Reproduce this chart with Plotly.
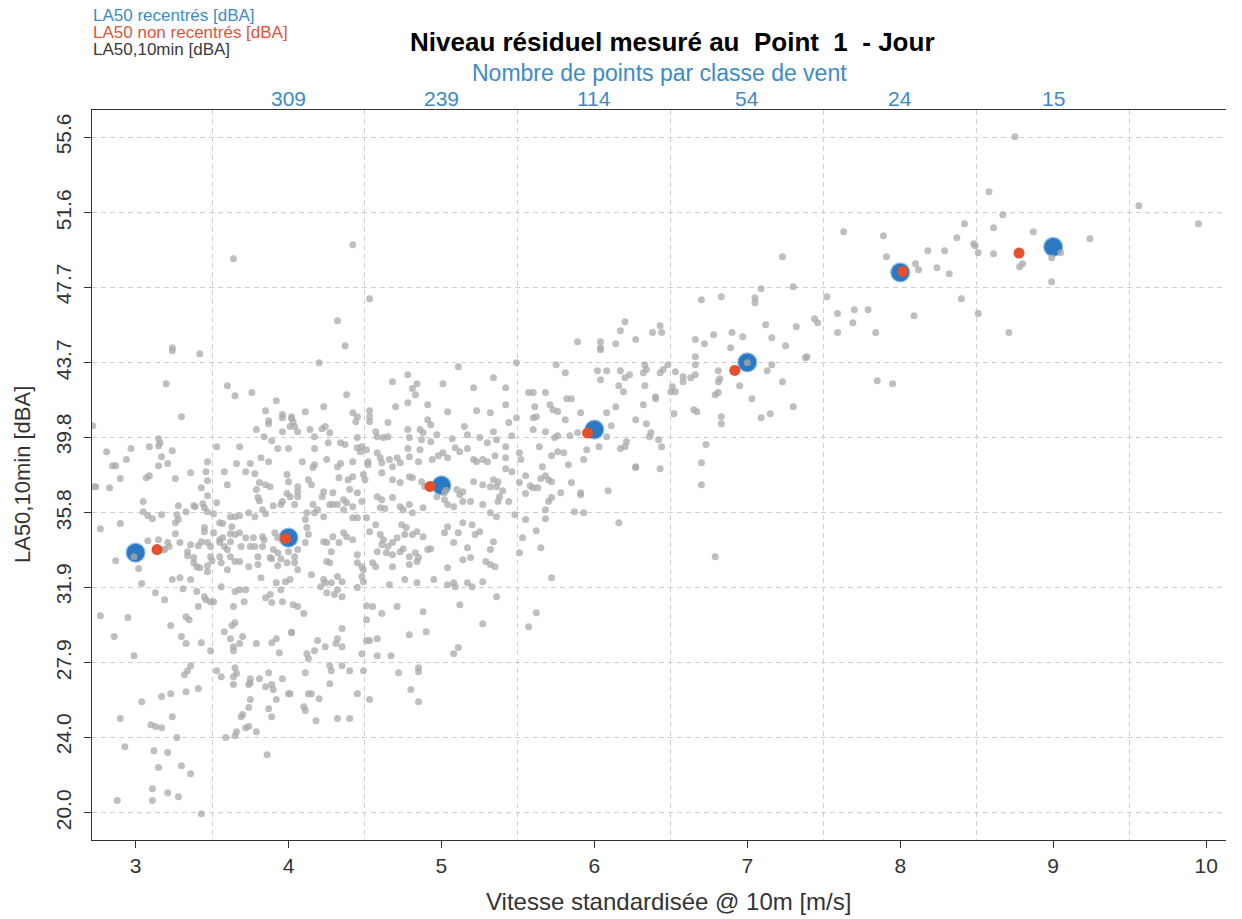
import plotly.graph_objects as go

# ---- per-class results (recentred / not recentred LA50) ----
classes_vent = [3, 4, 5, 6, 7, 8, 9]
la50_recentre = [33.71, 34.50, 37.25, 40.19, 43.73, 48.47, 49.81]
vent_non_recentre = [3.14, 3.98, 4.925, 5.955, 6.918, 8.017, 8.777]
la50_non_recentre = [33.87, 34.45, 37.20, 40.01, 43.31, 48.52, 49.49]

# number of 10-min samples per wind class (top axis)
classes_effectif = [4, 5, 6, 7, 8, 9]
effectifs = [309, 239, 114, 54, 24, 15]

# axis ticks
x_ticks = [3, 4, 5, 6, 7, 8, 9, 10]
y_tick_labels = ["20.0", "24.0", "27.9", "31.9", "35.8", "39.8", "43.7", "47.7", "51.6", "55.6"]

# ---- 10-min samples (wind speed m/s, LA50 dBA) ----
points_haut_gauche = [
    (3.64, 49.19), (3.24, 44.50), (4.42, 49.93), (4.53, 47.08), (4.32, 45.93), (4.37, 44.61),
    (3.24, 44.35), (3.42, 44.19), (3.20, 42.61), (3.60, 42.50), (3.65, 41.98), (3.76, 42.14),
    (3.92, 41.71), (3.30, 40.87), (3.85, 41.19), (3.87, 40.66), (3.87, 40.50), (3.96, 40.98),
    (3.96, 40.82), (4.02, 40.77), (4.01, 40.35), (3.96, 40.08), (3.79, 40.19), (3.84, 39.82),
    (3.89, 39.61), (2.72, 40.40), (3.15, 39.71), (3.16, 39.50), (3.15, 39.34), (3.09, 39.29),
    (3.68, 39.29), (3.53, 39.29), (2.97, 39.19), (2.81, 39.03), (3.24, 39.08), (3.82, 38.71),
    (3.93, 39.19), (4.00, 39.19), (3.17, 38.76), (2.94, 38.61), (2.85, 38.29), (2.87, 38.29),
    (3.15, 38.29), (3.21, 38.40), (3.47, 38.50), (3.46, 37.97), (3.66, 38.40), (3.75, 38.40),
    (3.87, 38.50), (3.36, 37.92), (3.58, 37.97), (3.72, 37.97), (3.78, 37.87), (3.99, 37.82),
    (3.09, 37.76), (3.07, 37.66), (2.90, 37.61), (3.26, 37.61), (3.47, 37.50), (3.60, 37.29),
    (3.81, 37.40), (3.85, 37.29), (3.88, 37.18), (4.00, 37.45), (2.73, 37.18), (2.74, 37.18),
    (2.83, 37.13), (3.43, 37.13), (3.79, 37.03), (3.80, 36.61), (3.81, 36.45), (3.99, 36.82),
    (4.01, 36.66), (3.47, 36.71), (3.90, 36.18), (3.96, 36.40), (3.95, 36.24), (3.05, 36.40),
    (3.28, 36.18), (3.38, 36.18), (3.39, 36.13), (3.44, 36.29), (3.53, 36.34), (3.05, 35.87),
    (2.90, 35.24), (2.77, 34.97), (3.08, 35.66), (3.11, 35.50), (3.17, 35.71), (3.27, 35.71),
    (3.28, 35.45), (3.26, 35.29), (3.33, 35.87), (3.45, 36.08), (3.47, 35.87), (3.51, 35.76),
    (3.62, 35.60), (3.65, 35.60), (3.68, 35.66), (3.74, 35.81), (3.78, 35.60), (3.83, 35.97),
    (3.85, 35.76), (3.55, 35.29), (3.57, 35.24), (3.63, 35.08), (3.45, 35.03), (3.45, 34.81),
    (3.51, 34.76), (3.26, 34.71), (3.62, 34.71), (3.65, 34.66), (3.68, 34.76), (3.57, 34.50),
    (3.72, 34.50), (3.77, 34.50), (3.83, 34.55), (3.84, 34.39), (3.91, 34.76), (3.93, 34.50),
    (3.08, 34.34), (3.15, 34.39), (3.21, 34.24), (3.22, 34.03), (3.29, 34.24), (3.36, 34.13),
    (3.34, 33.76), (3.41, 34.08), (3.43, 34.29), (3.47, 34.24), (3.49, 34.03), (3.55, 34.39),
    (3.55, 34.24), (3.58, 34.03), (3.62, 34.29), (3.60, 33.87), (3.69, 34.03), (3.75, 34.03),
    (3.78, 34.03), (3.83, 34.03), (3.90, 33.87), (3.18, 33.87), (3.19, 33.87), (2.87, 33.29),
    (2.99, 33.50), (3.02, 32.87), (3.04, 32.08), (3.34, 33.55), (3.38, 33.45), (3.40, 32.97),
    (3.42, 32.92), (3.38, 33.18), (3.49, 33.50), (3.50, 33.29), (3.47, 33.02), (3.55, 33.50),
    (3.56, 33.18), (3.62, 33.50), (3.65, 33.24), (3.60, 32.81), (3.68, 33.24), (3.74, 32.97),
    (3.80, 33.50), (3.80, 33.08), (3.88, 33.45), (3.89, 33.39), (3.93, 33.71), (3.95, 33.39),
    (3.93, 33.02), (4.00, 33.76), (3.99, 33.18), (3.82, 32.39), (3.92, 32.13), (3.98, 32.18),
    (4.01, 32.29), (3.47, 32.71), (3.24, 32.29), (3.29, 32.39), (3.36, 32.29), (3.56, 31.92),
    (3.65, 31.66), (3.68, 31.76), (3.72, 31.76), (3.88, 31.50), (3.85, 31.34), (3.13, 31.60),
    (3.31, 31.81), (3.40, 31.66), (3.45, 31.39), (3.95, 31.76),
]

points_bas_gauche = [
    (3.19, 31.23), (3.46, 31.23), (3.49, 31.13), (3.51, 31.13), (3.71, 31.13), (3.89, 31.08),
    (3.96, 31.13), (3.41, 30.87), (3.64, 30.87), (2.77, 30.39), (2.95, 30.29), (3.23, 29.87),
    (3.33, 30.34), (3.35, 30.18), (3.63, 29.87), (3.65, 30.02), (4.02, 29.50), (2.86, 29.29),
    (3.30, 29.29), (3.58, 29.55), (3.62, 29.18), (3.70, 29.29), (3.33, 28.92), (3.43, 28.97),
    (3.64, 28.76), (3.64, 28.55), (3.68, 28.92), (3.79, 28.92), (3.89, 28.97), (3.92, 29.18),
    (3.94, 28.44), (3.49, 28.55), (2.99, 28.28), (3.36, 27.76), (3.34, 27.49), (3.32, 27.28),
    (3.53, 27.49), (3.56, 27.18), (3.65, 27.65), (3.66, 27.34), (3.64, 27.18), (3.64, 26.76),
    (3.75, 27.07), (3.75, 26.86), (3.74, 26.76), (3.81, 27.07), (3.87, 27.39), (3.89, 26.76),
    (3.90, 26.50), (3.85, 26.65), (3.96, 27.07), (4.00, 26.28), (3.92, 25.97), (3.41, 26.55),
    (3.33, 26.39), (3.23, 26.28), (3.17, 26.13), (3.04, 25.86), (3.75, 25.97), (3.74, 25.55),
    (3.87, 25.49), (3.89, 25.07), (3.24, 25.07), (2.90, 24.97), (3.10, 24.65), (3.13, 24.55),
    (3.17, 24.49), (3.69, 25.07), (3.70, 25.18), (3.72, 24.49), (3.74, 24.55), (3.66, 24.28),
    (3.65, 24.07), (3.79, 24.28), (3.59, 23.97), (3.27, 23.97), (2.93, 23.49), (3.12, 23.28),
    (3.21, 23.18), (3.86, 23.07), (3.15, 22.39), (3.30, 22.49), (3.36, 22.07), (3.11, 21.28),
    (3.21, 21.07), (3.28, 20.86), (3.11, 20.65), (2.88, 20.65), (3.43, 19.96),
]

points_centre = [
    (4.20, 43.71), (4.78, 43.08), (4.68, 42.71), (4.84, 42.61), (4.81, 42.35), (4.83, 42.03),
    (5.01, 42.61), (5.11, 43.50), (5.21, 42.40), (5.34, 42.92), (4.38, 42.03), (4.78, 41.61),
    (4.91, 41.50), (4.70, 41.40), (4.23, 41.40), (4.11, 41.13), (4.42, 41.08), (4.44, 40.61),
    (4.45, 40.87), (4.53, 41.19), (4.53, 40.87), (4.53, 40.61), (5.04, 41.13), (5.23, 41.19),
    (5.32, 41.08), (4.02, 40.87), (4.03, 40.61), (4.04, 40.35), (4.65, 40.56), (4.91, 40.71),
    (4.93, 40.45), (5.15, 40.35), (5.34, 40.08), (4.14, 40.19), (4.22, 40.24), (4.24, 40.35),
    (4.27, 40.03), (4.06, 40.08), (4.34, 39.50), (4.17, 39.82), (4.45, 39.77), (4.57, 40.08),
    (4.58, 39.82), (4.62, 39.77), (4.65, 39.82), (4.78, 40.19), (4.79, 39.77), (4.86, 40.19),
    (4.88, 40.03), (4.87, 39.66), (4.97, 39.92), (4.93, 39.55), (5.07, 39.71), (5.17, 39.92),
    (5.25, 39.77), (5.30, 39.50), (4.17, 39.19), (4.26, 39.50), (4.37, 39.40), (4.45, 39.24),
    (4.47, 39.03), (4.48, 39.29), (4.51, 39.13), (4.52, 38.50), (4.52, 38.34), (4.58, 38.97),
    (4.60, 38.71), (4.61, 38.45), (4.66, 38.61), (4.68, 38.24), (4.71, 38.71), (4.73, 38.45),
    (4.78, 39.19), (4.79, 38.76), (4.86, 39.13), (4.85, 38.50), (4.94, 38.61), (4.98, 38.82),
    (5.01, 38.97), (5.04, 38.71), (5.09, 39.24), (5.12, 39.03), (5.17, 39.19), (5.21, 38.61),
    (5.23, 38.50), (5.27, 38.61), (5.30, 38.50), (4.09, 38.50), (4.17, 38.34), (4.16, 38.19),
    (4.25, 38.61), (4.32, 38.24), (4.34, 38.40), (4.42, 38.50), (4.13, 37.55), (4.33, 37.66),
    (4.39, 37.55), (4.42, 37.71), (4.49, 37.82), (4.50, 37.55), (4.61, 37.92), (4.68, 37.55),
    (4.73, 37.40), (4.79, 37.71), (4.81, 37.66), (4.87, 37.45), (4.89, 37.18), (4.97, 36.66),
    (5.02, 36.87), (5.10, 37.03), (5.12, 36.76), (5.14, 36.92), (5.21, 37.45), (5.27, 37.29),
    (5.32, 37.18), (5.34, 37.55), (4.06, 37.18), (4.06, 36.92), (4.06, 36.66), (4.15, 37.29),
    (4.23, 36.92), (4.22, 36.66), (4.29, 36.87), (4.27, 36.24), (4.29, 36.24), (4.32, 36.24),
    (4.36, 36.50), (4.38, 36.34), (4.40, 37.03), (4.45, 36.87), (4.48, 36.40), (4.42, 36.13),
    (4.04, 36.24), (4.16, 36.24), (4.17, 35.81), (4.19, 35.97), (4.12, 35.81), (4.11, 35.45),
    (4.12, 35.03), (4.23, 35.60), (4.36, 35.97), (4.42, 35.55), (4.45, 35.55), (4.51, 35.55),
    (4.58, 36.66), (4.61, 36.50), (4.60, 36.08), (4.63, 36.03), (4.68, 36.61), (4.73, 36.13),
    (4.75, 35.97), (4.79, 36.24), (4.81, 35.81), (4.88, 36.08), (5.02, 36.50), (5.04, 36.24),
    (5.08, 36.13), (5.14, 36.40), (5.19, 36.40), (5.27, 36.24), (5.32, 35.81), (4.06, 33.87),
    (4.04, 33.50), (4.04, 33.18), (4.06, 32.81), (4.11, 34.24), (4.13, 34.66), (4.23, 34.29),
    (4.25, 34.24), (4.29, 34.55), (4.36, 34.76), (4.38, 34.55), (4.42, 34.39), (4.33, 34.24),
    (4.28, 33.76), (4.25, 33.24), (4.27, 33.18), (4.15, 32.55), (4.23, 32.29), (4.24, 32.13),
    (4.28, 32.13), (4.32, 32.45), (4.35, 32.18), (4.32, 31.76), (4.45, 33.60), (4.45, 33.18),
    (4.48, 32.97), (4.49, 32.81), (4.48, 32.45), (4.49, 32.18), (4.45, 31.87), (4.53, 34.81),
    (4.57, 35.18), (4.60, 34.66), (4.62, 34.39), (4.61, 34.13), (4.58, 33.76), (4.64, 33.71),
    (4.68, 33.60), (4.55, 33.18), (4.57, 32.97), (4.65, 34.03), (4.68, 34.24), (4.71, 34.50),
    (4.74, 35.18), (4.77, 35.03), (4.76, 34.66), (4.81, 34.66), (4.84, 34.81), (4.88, 34.55),
    (4.73, 33.76), (4.75, 33.92), (4.79, 33.50), (4.83, 33.71), (4.85, 33.45), (4.68, 32.97),
    (4.79, 33.08), (4.84, 33.24), (4.76, 32.29), (4.66, 32.02), (4.91, 33.87), (4.93, 33.92),
    (5.02, 34.76), (5.04, 35.08), (5.11, 34.76), (5.14, 35.29), (5.20, 35.18), (5.25, 34.81),
    (5.08, 34.24), (5.17, 33.97), (5.22, 34.66), (5.32, 33.87), (5.34, 34.29), (5.04, 32.92),
    (5.04, 32.02), (5.08, 32.13), (5.14, 33.34), (5.19, 33.45), (5.29, 33.24), (5.32, 33.08),
    (4.84, 32.13), (4.95, 32.29), (5.17, 32.13), (5.20, 31.92), (5.27, 32.18), (5.09, 31.92),
    (4.21, 31.92), (4.25, 31.60), (4.30, 31.50), (4.35, 31.39), (5.03, 37.00),
]

points_centre_bas = [
    (4.03, 30.97), (4.06, 30.87), (4.10, 30.50), (4.02, 29.50), (4.51, 30.92), (4.55, 30.87),
    (4.71, 30.87), (4.61, 30.50), (4.88, 30.60), (5.12, 30.97), (5.27, 29.97), (4.51, 30.18),
    (4.35, 29.71), (4.19, 29.08), (4.17, 28.55), (4.24, 28.76), (4.31, 28.92), (4.32, 29.18),
    (4.35, 28.76), (4.51, 29.08), (4.53, 29.08), (4.58, 29.18), (4.79, 29.39), (4.90, 29.55),
    (5.08, 28.39), (5.11, 28.71), (4.12, 28.39), (4.13, 28.13), (4.48, 28.39), (4.58, 28.28),
    (4.67, 28.28), (4.11, 27.39), (4.27, 27.76), (4.28, 27.49), (4.35, 27.76), (4.40, 27.49),
    (4.49, 27.49), (4.72, 27.39), (4.85, 27.65), (4.85, 27.44), (4.27, 26.81), (4.01, 26.28),
    (4.13, 26.28), (4.15, 26.28), (4.20, 26.02), (4.45, 26.28), (4.53, 25.97), (4.80, 26.50),
    (4.85, 25.86), (4.10, 25.60), (4.11, 25.39), (4.18, 24.86), (4.32, 24.97), (4.40, 24.97),
]

points_droite = [
    (6.70, 47.03), (6.20, 45.87), (6.17, 45.40), (6.43, 45.66), (6.38, 45.30), (6.44, 45.30),
    (5.89, 44.82), (6.04, 44.82), (6.04, 44.50), (6.14, 44.71), (6.27, 44.93), (6.66, 44.93),
    (6.04, 44.40), (5.49, 43.71), (5.75, 43.61), (5.81, 43.19), (6.02, 43.29), (6.08, 43.29),
    (6.04, 42.82), (6.17, 43.29), (6.20, 42.92), (6.23, 43.08), (6.16, 42.50), (6.19, 42.19),
    (6.33, 43.61), (6.32, 43.19), (6.34, 43.35), (6.43, 43.19), (6.45, 43.35), (6.48, 43.61),
    (6.53, 43.24), (6.58, 42.98), (6.58, 42.71), (6.51, 42.45), (6.53, 42.19), (6.50, 42.19),
    (6.66, 44.03), (6.66, 43.61), (6.66, 43.08), (6.63, 42.92), (6.33, 42.50), (6.40, 41.92),
    (6.40, 41.82), (5.42, 42.40), (5.57, 42.14), (5.60, 42.14), (5.68, 42.14), (5.82, 41.82),
    (5.85, 41.82), (5.42, 41.50), (5.71, 41.50), (5.73, 41.24), (5.76, 41.14), (5.61, 41.40),
    (5.60, 40.82), (5.62, 40.87), (5.91, 41.08), (6.08, 41.08), (6.14, 41.40), (6.32, 41.50),
    (6.52, 41.03), (6.65, 41.24), (6.67, 41.13), (5.49, 40.82), (5.44, 40.56), (5.81, 40.71),
    (6.27, 40.71), (6.34, 40.50), (5.60, 40.19), (5.68, 40.08), (5.76, 39.87), (5.74, 39.77),
    (5.84, 39.87), (5.89, 40.03), (6.08, 39.82), (6.11, 40.40), (6.37, 40.03), (6.36, 39.82),
    (6.42, 39.66), (6.21, 39.55), (6.20, 39.29), (6.17, 39.19), (6.44, 39.29), (5.36, 39.66),
    (5.46, 39.87), (5.42, 39.29), (5.35, 38.82), (5.42, 38.71), (5.51, 38.97), (5.52, 38.61),
    (5.64, 39.29), (5.76, 39.03), (5.80, 38.97), (5.72, 38.82), (5.83, 38.34), (5.93, 38.61),
    (6.03, 39.29), (5.95, 39.13), (5.42, 38.13), (5.46, 37.97), (5.66, 38.24), (6.27, 38.19),
    (6.27, 38.24), (6.43, 38.13), (6.70, 38.45), (5.37, 37.45), (5.36, 37.18), (5.55, 37.76),
    (5.68, 37.76), (5.70, 37.55), (5.72, 37.45), (5.65, 37.61), (5.51, 37.40), (5.58, 37.24),
    (5.60, 37.13), (5.63, 37.13), (5.85, 37.40), (5.55, 36.82), (5.78, 36.87), (5.91, 36.87),
    (5.91, 36.76), (6.09, 36.97), (6.70, 37.29), (5.40, 36.97), (5.38, 36.66), (5.37, 36.40),
    (5.44, 36.40), (5.70, 36.40), (5.72, 36.61), (5.68, 35.97), (5.87, 35.87), (5.93, 35.81),
    (5.48, 35.71), (5.36, 35.60), (5.55, 35.45), (5.68, 35.50), (6.16, 35.29), (5.62, 34.87),
    (5.53, 34.50), (5.65, 33.97), (5.51, 33.71), (5.35, 32.97), (5.72, 32.39), (5.36, 31.39),
    (5.62, 30.55), (5.57, 29.81),
]

points_haut_droite = [
    (8.75, 55.62), (8.58, 52.72), (9.56, 51.98), (8.67, 51.51), (9.95, 51.03), (7.63, 50.61),
    (7.89, 50.40), (8.42, 51.03), (8.61, 50.82), (8.87, 50.61), (9.24, 50.24), (8.37, 50.30),
    (8.48, 49.98), (8.49, 49.88), (8.51, 49.51), (8.61, 49.45), (8.29, 49.61), (8.18, 49.61),
    (7.91, 49.30), (7.23, 49.30), (9.05, 49.51), (8.99, 49.24), (8.78, 48.77), (8.80, 48.93),
    (8.99, 47.98), (8.10, 48.93), (8.12, 48.61), (8.24, 48.72), (8.32, 48.40), (7.30, 47.72),
    (7.09, 47.61), (6.83, 47.19), (7.05, 47.14), (7.05, 46.87), (7.52, 47.19), (8.40, 47.08),
    (7.70, 46.51), (7.79, 46.51), (7.59, 46.30), (7.44, 46.03), (7.46, 45.82), (8.09, 46.19),
    (8.51, 46.30), (7.69, 45.82), (7.12, 45.72), (7.32, 45.61), (6.78, 45.19), (6.90, 45.30),
    (6.97, 45.08), (7.16, 45.03), (7.59, 45.30), (7.84, 45.30), (8.71, 45.30), (6.72, 44.71),
    (7.25, 44.61), (6.89, 44.50), (7.00, 43.71), (7.16, 43.61), (7.13, 43.29), (7.38, 43.98),
    (7.39, 44.03), (6.81, 43.29), (6.82, 42.87), (6.81, 42.71), (6.95, 42.50), (7.23, 42.71),
    (6.79, 42.03), (6.81, 42.14), (7.03, 41.82), (7.30, 41.40), (6.83, 40.87), (6.83, 40.50),
    (7.09, 40.82), (7.15, 41.03), (7.85, 42.77), (7.95, 42.61), (6.73, 39.40), (6.79, 33.50),
]

nuage = (points_haut_gauche + points_bas_gauche + points_centre
         + points_centre_bas + points_droite + points_haut_droite)
vent_10min = [p[0] for p in nuage]
la50_10min = [p[1] for p in nuage]

BLEU = "#2b79c2"
ROUGE = "#e4502d"
GRIS = "#a9a9a9"
TEXTE = "#333333"
BLEU_TEXTE = "#3d8bc6"
POLICE = "Liberation Sans, Arial, sans-serif"

fig = go.Figure()

fig.add_trace(go.Scatter(
    x=classes_vent, y=la50_recentre, mode="markers",
    marker=dict(size=19, color=BLEU, line=dict(color="#8fbde6", width=1.2)),
    name="LA50 recentrés [dBA]", hoverinfo="x+y",
))
fig.add_trace(go.Scatter(
    x=vent_10min, y=la50_10min, mode="markers",
    marker=dict(size=7, color=GRIS, opacity=0.75, line=dict(width=0)),
    name="LA50,10min [dBA]", hoverinfo="x+y",
))
fig.add_trace(go.Scatter(
    x=vent_non_recentre, y=la50_non_recentre, mode="markers",
    marker=dict(size=11, color=ROUGE, line=dict(width=0)),
    name="LA50 non recentrés [dBA]", hoverinfo="x+y",
))

annotations = []
# counts per wind class above the plot
for xv, n in zip(classes_effectif, effectifs):
    annotations.append(dict(
        x=xv, y=1.0164, xref="x", yref="paper", text=str(n), showarrow=False,
        xanchor="center", yanchor="middle", font=dict(size=21, color=BLEU_TEXTE, family=POLICE),
    ))
annotations += [
    dict(x=0.5, y=1.0507, xref="paper", yref="paper", showarrow=False,
         text="Nombre de points par classe de vent", xanchor="center", yanchor="middle",
         font=dict(size=23, color=BLEU_TEXTE, family=POLICE)),
    dict(x=0.5115, y=1.093, xref="paper", yref="paper", showarrow=False,
         text="<b>Niveau résiduel mesuré au\u00a0 Point\u00a0 1\u00a0 - Jour</b>",
         xanchor="center", yanchor="middle", font=dict(size=26, color="#000000", family=POLICE)),
    dict(x=-0.001, y=1.1288, xref="paper", yref="paper", showarrow=False,
         text="LA50 recentrés [dBA]", xanchor="left", yanchor="middle",
         font=dict(size=17, color=BLEU_TEXTE, family=POLICE)),
    dict(x=-0.001, y=1.1055, xref="paper", yref="paper", showarrow=False,
         text="LA50 non recentrés [dBA]", xanchor="left", yanchor="middle",
         font=dict(size=17, color="#e0533a", family=POLICE)),
    dict(x=-0.001, y=1.0822, xref="paper", yref="paper", showarrow=False,
         text="LA50,10min [dBA]", xanchor="left", yanchor="middle",
         font=dict(size=17, color="#3a3a3a", family=POLICE)),
    dict(x=0.5088, y=-0.0849, xref="paper", yref="paper", showarrow=False,
         text="Vitesse standardisée @ 10m [m/s]", xanchor="center", yanchor="middle",
         font=dict(size=24, color=TEXTE, family=POLICE)),
    dict(x=-0.0617, y=0.5, xref="paper", yref="paper", showarrow=False, textangle=-90,
         text="LA50,10min [dBA]", xanchor="center", yanchor="middle",
         font=dict(size=22, color=TEXTE, family=POLICE)),
]

fig.update_layout(
    width=1242, height=919,
    margin=dict(l=92, r=16, t=110, b=79),
    paper_bgcolor="white", plot_bgcolor="white",
    showlegend=False,
    font=dict(family=POLICE, color=TEXTE),
    annotations=annotations,
    xaxis=dict(
        range=[2.715, 10.13], tickmode="array", tickvals=x_ticks,
        ticks="outside", ticklen=7, tickcolor=TEXTE, tickwidth=1,
        showline=True, linecolor=TEXTE, linewidth=1, mirror=True,
        showgrid=False, zeroline=False,
        tickfont=dict(size=21, color=TEXTE),
        minor=dict(tick0=3.5, dtick=1, showgrid=True, gridcolor="#cfcfcf",
                   griddash="5px,4px", gridwidth=1, ticks=""),
    ),
    yaxis=dict(
        range=[18.576, 57.024], tickmode="array",
        tickvals=[float(t) for t in y_tick_labels], ticktext=y_tick_labels,
        tickangle=-90, ticks="outside", ticklen=7, tickcolor=TEXTE, tickwidth=1,
        ticklabelstandoff=5,
        showline=True, linecolor=TEXTE, linewidth=1, mirror=False,
        showgrid=True, gridcolor="#cfcfcf", griddash="5px,4px", gridwidth=1,
        zeroline=False, tickfont=dict(size=21, color=TEXTE),
    ),
)

fig.write_html("out.html")
